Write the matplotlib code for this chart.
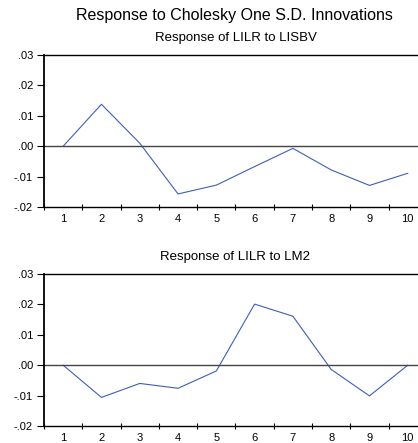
import matplotlib
matplotlib.use('Agg')
import matplotlib.pyplot as plt
import numpy as np

plt.rcParams['font.family'] = ['Liberation Sans', 'DejaVu Sans']

periods = [1, 2, 3, 4, 5, 6, 7, 8, 9, 10]
resp_lisbv = [0.0, 0.0138, 0.0010, -0.0157, -0.0128, -0.0067, -0.0007, -0.0078, -0.0129, -0.0089]
resp_lm2 = [0.0, -0.0106, -0.0060, -0.0076, -0.0019, 0.0201, 0.0161, -0.0014, -0.0101, 0.0]
y_ticks = [-0.02, -0.01, 0.0, 0.01, 0.02, 0.03]
y_labels = ['-.02', '-.01', '.00', '.01', '.02', '.03']

fig = plt.figure(figsize=(4.18, 4.43), dpi=100)
fig.text(0.562, 0.966, 'Response to Cholesky One S.D. Innovations', ha='center', va='center', fontsize=11.5)

def panel(rect, values, title):
    ax = fig.add_axes(rect)
    ax.plot(periods, values, color='#3e5fb8', lw=0.8)
    ax.axhline(0, color='#444444', lw=1.0)
    ax.set_xlim(0.5, 10.5)
    ax.set_ylim(-0.02, 0.03)
    ax.set_yticks(y_ticks)
    ax.set_yticklabels(y_labels)
    # tick marks between periods, labels at the periods
    ax.set_xticks(np.arange(0.5, 11, 1))
    ax.set_xticklabels([])
    ax.set_xticks(periods, minor=True)
    ax.set_xticklabels([str(p) for p in periods], minor=True)
    ax.tick_params(axis='x', which='major', direction='inout', length=5, width=0.8)
    ax.tick_params(axis='x', which='minor', length=0, pad=5, labelsize=8)
    ax.tick_params(axis='y', direction='out', length=5, width=0.8, labelsize=8, pad=3)
    for s in ['left', 'top', 'bottom']:
        ax.spines[s].set_linewidth(1.0)
    ax.spines['left'].set_linewidth(1.3)
    ax.spines['right'].set_visible(False)
    ax.set_title(title, fontsize=9.5, pad=10, x=0.5)
    return ax

panel([0.1053, 0.5327, 0.916, 0.3431], resp_lisbv, 'Response of LILR to LISBV')
panel([0.1053, 0.0384, 0.916, 0.3431], resp_lm2, 'Response of LILR to LM2')

fig.savefig('out.png', dpi=100)
